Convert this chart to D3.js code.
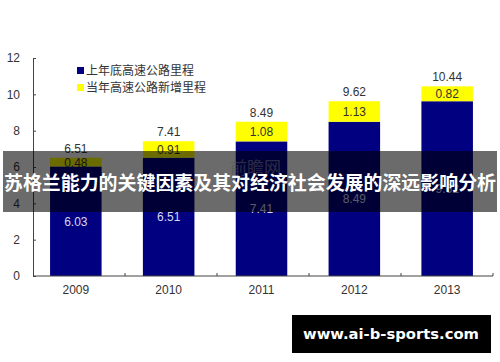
<!DOCTYPE html>
<html><head><meta charset="utf-8">
<script src="https://cdn.jsdelivr.net/npm/d3@7"></script>
<style>html,body{margin:0;padding:0;background:#fff;}svg{display:block;}</style>
</head><body>
<script>
const years = ["2009","2010","2011","2012","2013"];
const baseValues = [6.03, 6.51, 7.41, 8.49, 9.62];
const addValues = [0.48, 0.91, 1.08, 1.13, 0.82];
const totalLabels = ["6.51","7.41","8.49","9.62","10.44"];
const yTicks = [0,2,4,6,8,10,12];
const seriesNames = ["上年底高速公路里程","当年高速公路新增里程"];
const colors = ["#000080","#ffff00"];
const titleText = "苏格兰能力的关键因素及其对经济社会发展的深远影响分析";
const siteText = "www.ai-b-sports.com";

const W = 500, H = 362;
const svg = d3.select("body").append("svg").attr("width", W).attr("height", H);
const x = d3.scaleBand().domain(years).range([33, 493]).paddingInner(0.445).paddingOuter(0.2);
const y = d3.scaleLinear().domain([0, 12]).range([276, 58]);
const font = "Arial, 'Liberation Sans', sans-serif";
const cjk = "'Noto Sans CJK SC', sans-serif";

const data = years.map((yr, i) => ({yr, base: baseValues[i], add: addValues[i], total: totalLabels[i]}));
const stack = d3.stack().keys(["base","add"])(data);

const g = svg.append("g");
stack.forEach((layer, li) => {
  g.selectAll(null).data(layer).enter().append("rect")
    .attr("x", d => x(d.data.yr) - 1.5)
    .attr("width", x.bandwidth())
    .attr("y", d => y(d[1]))
    .attr("height", d => y(d[0]) - y(d[1]))
    .attr("fill", colors[li]);
  g.selectAll(null).data(layer).enter().append("text")
    .attr("x", d => x(d.data.yr) - 1.5 + x.bandwidth()/2)
    .attr("y", d => (y(d[0]) + y(d[1]))/2 + 4.5)
    .attr("text-anchor", "middle")
    .attr("font-family", font).attr("font-size", 12)
    .attr("fill", li === 0 ? "#d8d8f0" : "#333")
    .text((d, i) => (li === 0 ? baseValues[i] : addValues[i]).toFixed(2));
});
g.selectAll(null).data(data).enter().append("text")
  .attr("x", d => x(d.yr) - 1.5 + x.bandwidth()/2)
  .attr("y", d => y(d.base + d.add) - 5)
  .attr("text-anchor", "middle")
  .attr("font-family", font).attr("font-size", 12).attr("fill", "#333")
  .text(d => d.total);

// axes
const yAxis = d3.axisLeft(y).tickValues(yTicks).tickSize(-3).tickPadding(13);
const ya = svg.append("g").attr("transform", "translate(33,0)").call(yAxis);
ya.select(".domain").attr("stroke", "#444");
ya.selectAll(".tick line").attr("stroke", "#444");
ya.selectAll("text").attr("font-family", font).attr("font-size", 12).attr("fill", "#333");

svg.append("line").attr("x1", 33).attr("x2", 493).attr("y1", y(0)).attr("y2", y(0)).attr("stroke", "#444");
const bounds = d3.range(years.length + 1).map(i => 33 + i * 92);
svg.selectAll(null).data(bounds.slice(1)).enter().append("line")
  .attr("x1", d => d).attr("x2", d => d).attr("y1", y(0)).attr("y2", y(0) - 3).attr("stroke", "#444");
svg.selectAll(null).data(years).enter().append("text")
  .attr("x", d => x(d) - 1.5 + x.bandwidth()/2).attr("y", 294)
  .attr("text-anchor", "middle").attr("font-family", font).attr("font-size", 12).attr("fill", "#333")
  .text(d => d);

// legend
const lg = svg.append("g");
seriesNames.forEach((n, i) => {
  lg.append("rect").attr("x", 77).attr("y", 67 + i * 17).attr("width", 7).attr("height", 7).attr("fill", colors[i]);
  lg.append("text").attr("x", 86).attr("y", 75 + i * 17).attr("font-family", cjk).attr("font-size", 12).attr("fill", "#333").text(n);
});

// watermark
svg.append("text").attr("x", 230).attr("y", 174).attr("font-family", cjk).attr("font-size", 17)
  .attr("fill", "#c8c8c8").attr("opacity", 0.5).text("前瞻网");

// banner
svg.append("rect").attr("x", 3).attr("y", 151).attr("width", 494).attr("height", 61).attr("fill", "rgba(0,0,0,0.58)");
svg.append("text").attr("x", 250).attr("y", 189.5).attr("text-anchor", "middle")
  .attr("font-family", cjk).attr("font-weight", "bold").attr("font-size", 19).attr("fill", "#fff")
  .attr("textLength", 492).attr("lengthAdjust", "spacingAndGlyphs").text(titleText);

// site box
svg.append("rect").attr("x", 292).attr("y", 315).attr("width", 199).attr("height", 38).attr("fill", "#000");
svg.append("text").attr("x", 391).attr("y", 339).attr("text-anchor", "middle")
  .attr("font-family", "'DejaVu Sans', sans-serif").attr("font-weight", "bold").attr("font-size", 14).attr("fill", "#fff")
  .attr("textLength", 176).attr("lengthAdjust", "spacingAndGlyphs").text(siteText);
</script>
</body></html>
